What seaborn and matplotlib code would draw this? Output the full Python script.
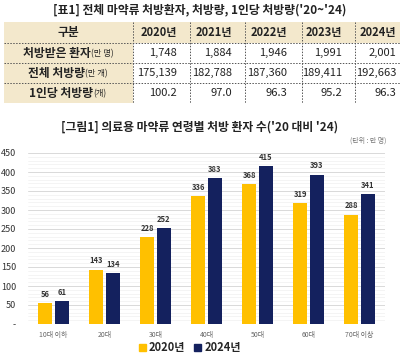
"""Prescription table and age-group bar chart."""

import matplotlib.pyplot as plt
import numpy as np
import pandas as pd
import seaborn as sns
from matplotlib.patches import Rectangle
from matplotlib.ticker import FuncFormatter, MultipleLocator

# table data
years = ["2020년", "2021년", "2022년", "2023년", "2024년"]
patients = [1748, 1884, 1946, 1991, 2001]
volume = [175139, 182788, 187360, 189411, 192663]
per_capita = [100.2, 97.0, 96.3, 95.2, 96.3]
row_names = [("처방받은 환자", "(만 명)"), ("전체 처방량", "(만 개)"), ("1인당 처방량", "(개)")]

# chart data
ages = ["10대 이하", "20대", "30대", "40대", "50대", "60대", "70대 이상"]
v2020 = [56, 143, 228, 336, 368, 319, 288]
v2024 = [61, 134, 252, 383, 415, 393, 341]
series = ["2020년", "2024년"]

GOLD = "#FFC000"
NAVY = "#14215E"
BEIGE = "#F3E8CC"
TXT = "#222222"

sns.set_theme(style="white")
plt.rcParams["font.family"] = ["Noto Sans CJK KR", "DejaVu Sans"]

W, H = 400, 356
fig = plt.figure(figsize=(W / 100, H / 100), dpi=100)

# background axes in pixel coordinates
bg = fig.add_axes([0, 0, 1, 1])
bg.set_xlim(0, W)
bg.set_ylim(H, 0)
bg.axis("off")

bg.text(200, 10, "[표1] 전체 마약류 처방환자, 처방량, 1인당 처방량('20~'24)",
        ha="center", va="center", fontsize=8.5, fontweight="bold", color=TXT)

# table layout
col_edges = [4, 133, 190, 245, 302, 355, 400]
row_edges = [22, 43, 63, 83, 103]
text_right = [177, 232, 287, 342, 396]

bg.add_patch(Rectangle((col_edges[0], row_edges[0]), W - col_edges[0], row_edges[1] - row_edges[0],
                       color=BEIGE, lw=0))
bg.add_patch(Rectangle((col_edges[0], row_edges[1]), col_edges[1] - col_edges[0],
                       row_edges[-1] - row_edges[1], color=BEIGE, lw=0))
for y in row_edges[1:-1]:
    bg.plot([col_edges[0], W], [y, y], color="#555555", lw=0.7, ls=(0, (1.5, 1.5)))
for x in col_edges[1:-1]:
    bg.plot([x, x], [row_edges[0], row_edges[-1]], color="#555555", lw=0.7, ls=(0, (1.5, 1.5)))

ycen = [(row_edges[i] + row_edges[i + 1]) / 2 for i in range(4)]
bg.text(68, ycen[0], "구분", ha="center", va="center", fontsize=8.5, fontweight="bold", color=TXT)
for x, yr in zip(text_right, years):
    bg.text(x, ycen[0], yr, ha="right", va="center", fontsize=8, fontweight="bold", color=TXT)

fig.canvas.draw()
renderer = fig.canvas.get_renderer()
for i, (main, unit) in enumerate(row_names):
    t1 = bg.text(0, ycen[i + 1], main, ha="left", va="center", fontsize=8.5,
                 fontweight="bold", color=TXT)
    t2 = bg.text(0, ycen[i + 1] + 1, unit, ha="left", va="center", fontsize=6, color=TXT)
    w1 = t1.get_window_extent(renderer).width
    w2 = t2.get_window_extent(renderer).width
    x0 = 68 - (w1 + w2) / 2
    t1.set_x(x0)
    t2.set_x(x0 + w1)

rows = [
    [f"{v:,}" for v in patients],
    [f"{v:,}" for v in volume],
    [f"{v:.1f}" for v in per_capita],
]
for r, vals in enumerate(rows):
    for x, s in zip(text_right, vals):
        bg.text(x, ycen[r + 1], s, ha="right", va="center", fontsize=8, color=TXT)

bg.text(200, 127, "[그림1] 의료용 마약류 연령별 처방 환자 수('20 대비 '24)",
        ha="center", va="center", fontsize=8.5, fontweight="bold", color=TXT)
bg.text(386, 141, "(단위 : 만 명)", ha="right", va="center", fontsize=5, color="#777777")

# bar chart
df = pd.DataFrame({
    "age": ages * 2,
    "year": [series[0]] * len(ages) + [series[1]] * len(ages),
    "value": v2020 + v2024,
})

left, right, top, bottom = 28, 385, 153, 324
ax = fig.add_axes([left / W, 1 - bottom / H, (right - left) / W, (bottom - top) / H])
ax.set_facecolor("none")
sns.barplot(data=df, x="age", y="value", hue="year", palette=[GOLD, NAVY], saturation=1,
            width=0.66, gap=0.12, ax=ax, legend=False)
for patch in ax.patches:
    patch.set_linewidth(0)

ax.set_ylim(0, 450)
ax.yaxis.set_major_locator(MultipleLocator(50))
ax.yaxis.set_minor_locator(MultipleLocator(10))
ax.yaxis.set_major_formatter(FuncFormatter(lambda v, p: "-" if v == 0 else f"{v:.0f}"))
ax.grid(axis="y", which="major", color="#d9d9d9", lw=0.7)
ax.grid(axis="y", which="minor", color="#f0f0f0", lw=0.5)
ax.set_axisbelow(True)
for s in ax.spines.values():
    s.set_visible(False)
ax.tick_params(axis="y", which="both", length=0, labelsize=6.5, labelcolor="#333333", pad=8.5)
ax.tick_params(axis="x", length=0, labelsize=5, labelcolor="#666666", pad=5)
ax.set_xlabel("")
ax.set_ylabel("")

for container in ax.containers:
    ax.bar_label(container, fmt="%d", fontsize=5.5, fontweight="bold", color="#333333", padding=3)

# legend
handles = [Rectangle((0, 0), 1, 1, color=c) for c in (GOLD, NAVY)]
fig.legend(handles, series, loc="center", bbox_to_anchor=(190 / W, 1 - 348 / H), ncol=2,
           frameon=False, handlelength=0.6, handleheight=0.6,
           handletextpad=0.3, columnspacing=0.8, prop={"weight": "bold", "size": 8})

fig.savefig("out.png", dpi=100)
plt.close(fig)
